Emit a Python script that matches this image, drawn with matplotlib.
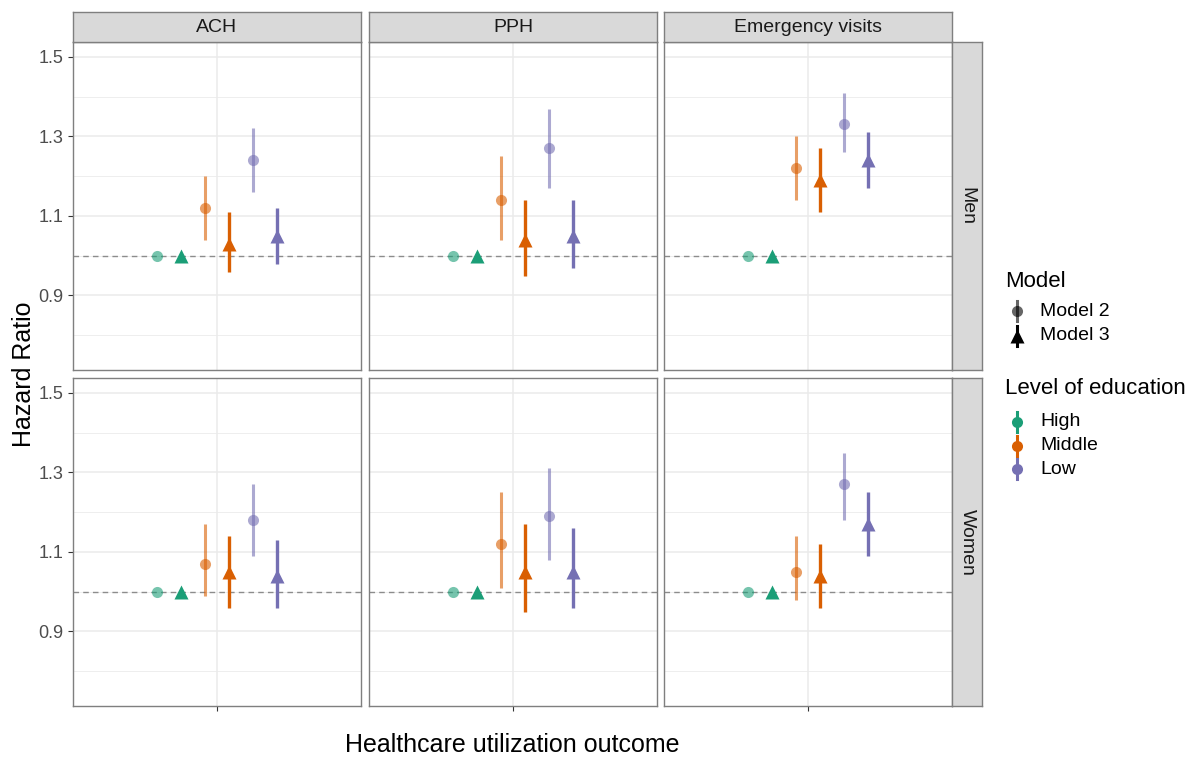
import matplotlib
matplotlib.use("Agg")
import matplotlib.pyplot as plt
from matplotlib.lines import Line2D

plt.rcParams["font.family"] = ["Liberation Sans", "DejaVu Sans"]

# data (hazard ratios), rows = outcome, cols = education level
outcomes = ["ACH", "PPH", "Emergency visits"]
sexes = ["Men", "Women"]
levels = ["High", "Middle", "Low"]
models = ["Model 2", "Model 3"]

men_m2_hr = [[1.00, 1.12, 1.24], [1.00, 1.14, 1.27], [1.00, 1.22, 1.33]]
men_m2_lo = [[1.00, 1.04, 1.16], [1.00, 1.04, 1.17], [1.00, 1.14, 1.26]]
men_m2_hi = [[1.00, 1.20, 1.32], [1.00, 1.25, 1.37], [1.00, 1.30, 1.41]]
men_m3_hr = [[1.00, 1.03, 1.05], [1.00, 1.04, 1.05], [1.00, 1.19, 1.24]]
men_m3_lo = [[1.00, 0.96, 0.98], [1.00, 0.95, 0.97], [1.00, 1.11, 1.17]]
men_m3_hi = [[1.00, 1.11, 1.12], [1.00, 1.14, 1.14], [1.00, 1.27, 1.31]]

women_m2_hr = [[1.00, 1.07, 1.18], [1.00, 1.12, 1.19], [1.00, 1.05, 1.27]]
women_m2_lo = [[1.00, 0.99, 1.09], [1.00, 1.01, 1.08], [1.00, 0.98, 1.18]]
women_m2_hi = [[1.00, 1.17, 1.27], [1.00, 1.25, 1.31], [1.00, 1.14, 1.35]]
women_m3_hr = [[1.00, 1.05, 1.04], [1.00, 1.05, 1.05], [1.00, 1.04, 1.17]]
women_m3_lo = [[1.00, 0.96, 0.96], [1.00, 0.95, 0.96], [1.00, 0.96, 1.09]]
women_m3_hi = [[1.00, 1.14, 1.13], [1.00, 1.17, 1.16], [1.00, 1.12, 1.25]]

y_breaks = [0.9, 1.1, 1.3, 1.5]
y_minor = [0.8, 1.0, 1.2, 1.4]

COLORS = {"High": "#1B9E77", "Middle": "#D95F02", "Low": "#7570B3"}
MARKERS = {"Model 2": "o", "Model 3": "^"}
ALPHA = {"Model 2": 0.6, "Model 3": 1.0}
MSIZE = {"Model 2": 8, "Model 3": 10}
LW = {"Model 2": 2.2, "Model 3": 2.4}
GRID = "#EBEBEB"
EDGE = "#7F7F7F"

W, H = 1191, 757
fig = plt.figure(figsize=(W / 100, H / 100), dpi=100)


def box(x0, y0, x1, y1):
    return [x0 / W, 1 - y1 / H, (x1 - x0) / W, (y1 - y0) / H]


def style_box(a):
    for s in a.spines.values():
        s.set_color(EDGE)
        s.set_linewidth(1.0)


col_px = [(73, 361), (369, 657), (664, 952)]
row_px = [(42, 370), (378, 706)]
data = {
    "Men": {"Model 2": (men_m2_hr, men_m2_lo, men_m2_hi), "Model 3": (men_m3_hr, men_m3_lo, men_m3_hi)},
    "Women": {"Model 2": (women_m2_hr, women_m2_lo, women_m2_hi), "Model 3": (women_m3_hr, women_m3_lo, women_m3_hi)},
}

for i, sex in enumerate(sexes):
    y0, y1 = row_px[i]
    for j, outcome in enumerate(outcomes):
        x0, x1 = col_px[j]
        ax = fig.add_axes(box(x0, y0, x1, y1))
        ax.set_xlim(0.4, 1.6)
        ax.set_ylim(0.7125, 1.5375)
        for yb in y_breaks:
            ax.axhline(yb, color=GRID, lw=1.1, zorder=0)
        for yb in y_minor:
            ax.axhline(yb, color=GRID, lw=0.6, zorder=0)
        ax.axvline(1.0, color=GRID, lw=1.1, zorder=0)
        ax.axhline(1.0, color="#8C8C8C", lw=1.0, ls=(0, (4, 3)), zorder=1)

        k = 0
        for li, lev in enumerate(levels):
            for model in models:
                hr, lo, hi = data[sex][model]
                xpos = 0.75 + 0.1 * k
                k += 1
                c = COLORS[lev]
                ax.vlines(xpos, lo[j][li], hi[j][li], color=c, lw=LW[model], alpha=ALPHA[model], zorder=2)
                ax.plot([xpos], [hr[j][li]], marker=MARKERS[model], ms=MSIZE[model], color=c,
                        mec="none", alpha=ALPHA[model], ls="", zorder=3)

        style_box(ax)
        ax.set_yticks(y_breaks)
        ax.set_xticks([1.0])
        ax.tick_params(axis="both", colors="#333333", length=3.5, width=0.8, labelsize=13, labelcolor="#4D4D4D")
        if j == 0:
            ax.set_yticklabels([f"{v:.1f}" for v in y_breaks])
        else:
            ax.tick_params(axis="y", length=0)
            ax.set_yticklabels([])
        ax.set_xticklabels([""])
        if i == 0:
            ax.tick_params(axis="x", length=0)

        # top strips
        if i == 0:
            sax = fig.add_axes(box(x0, 12, x1, 42))
            sax.set_xticks([])
            sax.set_yticks([])
            sax.set_facecolor("#D9D9D9")
            style_box(sax)
            sax.text(0.5, 0.5, outcome, ha="center", va="center", fontsize=14, color="#1A1A1A")
    # right strips
    rax = fig.add_axes(box(952, y0, 982, y1))
    rax.set_xticks([])
    rax.set_yticks([])
    rax.set_facecolor("#D9D9D9")
    style_box(rax)
    rax.text(0.5, 0.5, sex, ha="center", va="center", rotation=-90, fontsize=14, color="#1A1A1A")

fig.text(24 / W, 1 - 374 / H, "Hazard Ratio", rotation=90, ha="center", va="center", fontsize=18)
fig.text(512 / W, 1 - 745 / H, "Healthcare utilization outcome", ha="center", va="center", fontsize=18)


# legends drawn by hand to mimic ggplot pointrange keys
def key(xp, yp, color, marker, alpha, ms):
    fx, fy = xp / W, 1 - yp / H
    dy = 10 / H
    fig.add_artist(Line2D([fx, fx], [fy - dy, fy + dy], color=color, lw=2.2, alpha=alpha,
                          transform=fig.transFigure))
    fig.add_artist(Line2D([fx], [fy], marker=marker, ms=ms, color=color, mec="none", alpha=alpha,
                          transform=fig.transFigure))


fig.text(1005 / W, 1 - 282 / H, "Model", ha="left", va="center", fontsize=16)
for n, model in enumerate(models):
    yp = 311 + 25 * n
    key(1017, yp, "black", MARKERS[model], ALPHA[model], MSIZE[model])
    fig.text(1040 / W, 1 - yp / H, model, ha="left", va="center", fontsize=14)

fig.text(1005 / W, 1 - 388 / H, "Level of education", ha="left", va="center", fontsize=16)
for n, lev in enumerate(levels):
    yp = 422 + 23.5 * n
    key(1017, yp, COLORS[lev], "o", 1.0, 8)
    fig.text(1040 / W, 1 - yp / H, lev, ha="left", va="center", fontsize=14)

fig.savefig("out.png", dpi=100, facecolor="white")
